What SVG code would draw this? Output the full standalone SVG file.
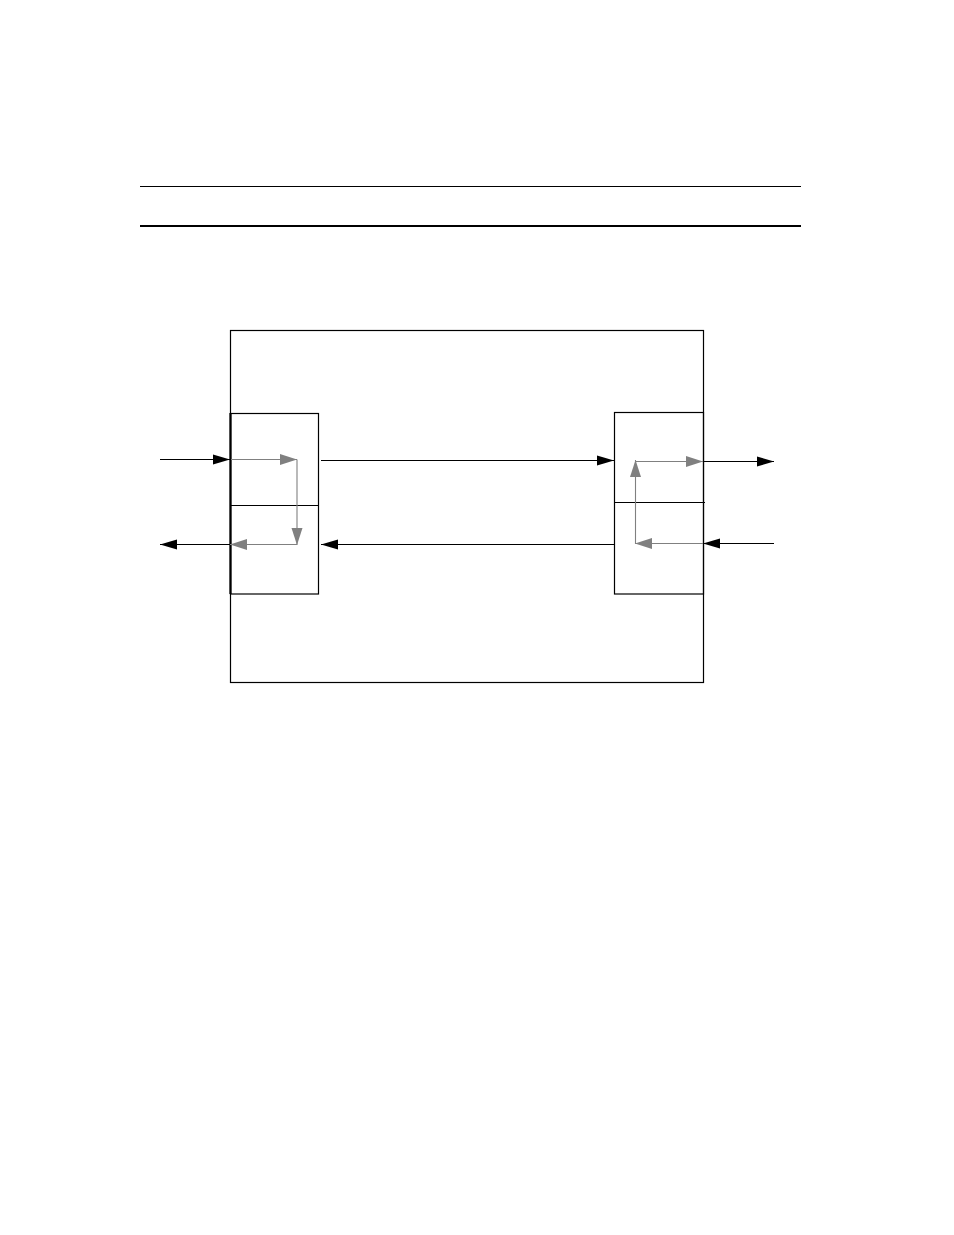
<svg xmlns="http://www.w3.org/2000/svg" width="954" height="1235" viewBox="0 0 954 1235">
<style>
.box{fill:none;stroke:#000;stroke-width:1.2}
.blk{fill:none;stroke:#000;stroke-width:1.2}
.gry{fill:none;stroke:#808080;stroke-width:1.1}
</style>
<defs>
<marker id="ab" markerUnits="userSpaceOnUse" markerWidth="18" markerHeight="12" refX="17" refY="5.5" orient="auto" viewBox="0 0 18 12">
<path d="M0,0.5 L17,5.5 L0,10.5 z" fill="#000"/>
</marker>
<marker id="ag" markerUnits="userSpaceOnUse" markerWidth="18" markerHeight="12" refX="17" refY="5.5" orient="auto" viewBox="0 0 18 12">
<path d="M0,0 L17,5.5 L0,11 z" fill="#808080"/>
</marker>
</defs>
<rect width="954" height="1235" fill="#fff"/>
<g id="rules">
<line x1="140" y1="186.5" x2="801" y2="186.5" stroke="#000" stroke-width="1.2"/>
<line x1="140" y1="226" x2="801" y2="226" stroke="#000" stroke-width="2.2"/>
</g>
<g id="outer">
<rect class="box" x="230.5" y="330.5" width="473" height="352"/>
<line x1="230.5" y1="413" x2="230.5" y2="594" stroke="#000" stroke-width="2.2"/>
</g>
<g id="left-node">
<rect class="box" x="230.5" y="413.5" width="88" height="180.5"/>
<line class="box" x1="230.5" y1="505.5" x2="318.5" y2="505.5"/>
</g>
<g id="right-node">
<rect class="box" x="614.5" y="412.5" width="89" height="181.5"/>
<line class="box" x1="614.5" y1="502.5" x2="705" y2="502.5"/>
</g>
<g id="connectors">
<line class="blk" x1="160" y1="459.5" x2="230" y2="459.5" marker-end="url(#ab)"/>
<line class="blk" x1="230" y1="544.5" x2="160" y2="544.5" marker-end="url(#ab)"/>
<line class="blk" x1="321" y1="460.5" x2="614" y2="460.5" marker-end="url(#ab)"/>
<line class="blk" x1="614" y1="544.5" x2="321" y2="544.5" marker-end="url(#ab)"/>
<line class="blk" x1="703" y1="461.5" x2="774" y2="461.5" marker-end="url(#ab)"/>
<line class="blk" x1="774" y1="543.5" x2="703" y2="543.5" marker-end="url(#ab)"/>
<line class="gry" x1="231" y1="459.5" x2="297" y2="459.5" marker-end="url(#ag)"/>
<line class="gry" x1="297" y1="459.5" x2="297" y2="545" marker-end="url(#ag)"/>
<line class="gry" x1="297" y1="544.5" x2="230" y2="544.5" marker-end="url(#ag)"/>
<line class="gry" x1="635.5" y1="544" x2="635.5" y2="460" marker-end="url(#ag)"/>
<line class="gry" x1="635" y1="461.5" x2="703" y2="461.5" marker-end="url(#ag)"/>
<line class="gry" x1="703" y1="543.5" x2="635" y2="543.5" marker-end="url(#ag)"/>
</g>
</svg>
